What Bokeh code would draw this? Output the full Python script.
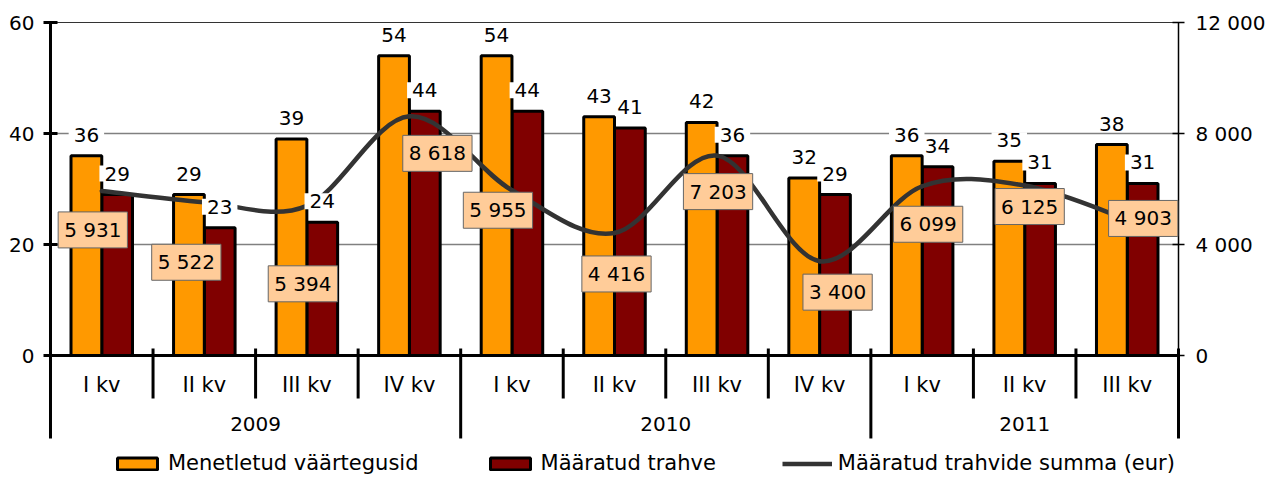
import numpy as np
from bokeh.plotting import figure
from bokeh.models import ColumnDataSource, Range1d, LinearAxis, FixedTicker, Legend, LegendItem
from bokeh.core.properties import value
from bokeh.embed import file_html
from bokeh.resources import INLINE

# ---------------- data ----------------
years = ["2009", "2010", "2011"]
quarters_per_year = [4, 4, 3]
quarters = ["I kv", "II kv", "III kv", "IV kv",
            "I kv", "II kv", "III kv", "IV kv",
            "I kv", "II kv", "III kv"]
menetletud = [36, 29, 39, 54, 54, 43, 42, 32, 36, 35, 38]
trahve = [29, 23, 24, 44, 44, 41, 36, 29, 34, 31, 31]
summa = [5931, 5522, 5394, 8618, 5955, 4416, 7203, 3400, 6099, 6125, 4903]
left_ticks = [0, 20, 40, 60]
right_ticks = [0, 4000, 8000, 12000]
right_tick_labels = ["0", "4 000", "8 000", "12 000"]
series_names = ["Menetletud väärtegusid", "Määratud trahve",
                "Määratud trahvide summa (eur)"]

# placement of the sum labels relative to their points (pixels)
sum_dx = [-9, -18, -4, 28, -14, 2, 1, 18, 6, 5, 16]
sum_dy = [39, 60, 78, 37, 20, 41, 36, 31, 38, 21, -1]

# ---------------- styles / geometry ----------------
FONTN = "DejaVu Sans"
FONT = value(FONTN)
ORANGE = "#FF9900"
DARKRED = "#800000"
LINEC = "#333333"
W, H = 1268, 477
PX_Y = 333 / 60.0
PX_X = 1129 / 11.0
Y0, Y1 = -(H - 355) / PX_Y, 60 + 2 / PX_Y
RATIO = 12000 / 60.0

n = len(quarters)
idx = np.arange(n, dtype=float)

p = figure(width=W, height=H, output_backend="svg", toolbar_location=None,
           x_range=Range1d(-0.5 - 4 / PX_X, 10.5 + 4 / PX_X),
           y_range=Range1d(Y0, Y1), x_axis_location=None,
           min_border_left=46, min_border_right=85, min_border_top=20,
           min_border_bottom=0)
p.extra_y_ranges = {"sum": Range1d(Y0 * RATIO, Y1 * RATIO)}
p.outline_line_color = None
p.grid.visible = False
p.background_fill_color = "white"
p.border_fill_color = "white"

# left axis
ya = p.yaxis[0]
ya.ticker = FixedTicker(ticks=left_ticks)
ya.axis_line_color = None
ya.major_tick_in = 11
ya.major_tick_out = 3
ya.major_tick_line_width = 3
ya.major_tick_line_color = "black"
ya.minor_tick_line_color = None
ya.major_label_standoff = 9
ya.major_label_text_font = FONTN
ya.major_label_text_font_size = "20px"
ya.major_label_text_color = "black"

# right axis
ra = LinearAxis(y_range_name="sum", ticker=FixedTicker(ticks=right_ticks),
                major_label_overrides={t: l for t, l in zip(right_ticks, right_tick_labels)})
ra.axis_line_color = None
ra.major_tick_in = 10
ra.major_tick_out = 2
ra.major_tick_line_width = 1.5
ra.major_tick_line_color = "black"
ra.minor_tick_line_color = None
ra.major_label_standoff = 11
ra.major_label_text_font = FONTN
ra.major_label_text_font_size = "20px"
ra.major_label_text_color = "black"
p.add_layout(ra, "right")

# gridlines
p.segment(x0=[-0.5, -0.5], x1=[10.5, 10.5], y0=[20, 40], y1=[20, 40],
          line_color="#808080", line_width=1.5)
p.segment(x0=[-0.5], x1=[10.5], y0=[60], y1=[60], line_color="#333333", line_width=1.2)

# bars
src = ColumnDataSource(dict(
    xo=idx - 0.15, xr=idx + 0.15, m=menetletud, t=trahve,
    ml=[str(v) for v in menetletud], tl=[str(v) for v in trahve]))
r_dr = p.vbar(x="xr", width=0.3, top="t", bottom=0, source=src,
              fill_color=DARKRED, line_color="black", line_width=3)
r_or = p.vbar(x="xo", width=0.3, top="m", bottom=0, source=src,
              fill_color=ORANGE, line_color="black", line_width=3)

# axes lines / separators
p.segment(x0=[-0.5], x1=[10.5], y0=[0], y1=[0], line_color="black", line_width=3)
p.segment(x0=[10.5], x1=[10.5], y0=[0], y1=[60], line_color="black", line_width=1.5)
p.segment(x0=[-0.5], x1=[-0.5], y0=[60], y1=[-14.95], line_color="black", line_width=3)
bounds = np.cumsum(quarters_per_year) - 0.5
qsep = [b for b in idx[:-1] + 0.5 if b not in bounds]
p.segment(x0=qsep, x1=qsep, y0=[1.26] * len(qsep), y1=[-7.75] * len(qsep),
          line_color="black", line_width=3)
ysep = list(bounds)
p.segment(x0=ysep, x1=ysep, y0=[1.26] * len(ysep), y1=[-14.95] * len(ysep),
          line_color="black", line_width=3)

# smooth line (Bezier through the data points)
ys = np.array(summa, dtype=float)
xpad = np.concatenate([[idx[0]], idx, [idx[-1]]])
ypad = np.concatenate([[ys[0]], ys, [ys[-1]]])
k = 1 / 6.0
bz = dict(
    x0=xpad[1:n], y0=ypad[1:n], x1=xpad[2:n + 1], y1=ypad[2:n + 1],
    cx0=xpad[1:n] + (xpad[2:n + 1] - xpad[0:n - 1]) * k,
    cy0=ypad[1:n] + (ypad[2:n + 1] - ypad[0:n - 1]) * k,
    cx1=xpad[2:n + 1] - (xpad[3:n + 2] - xpad[1:n]) * k,
    cy1=ypad[2:n + 1] - (ypad[3:n + 2] - ypad[1:n]) * k)
p.bezier(source=ColumnDataSource(bz), x0="x0", y0="y0", x1="x1", y1="y1",
         cx0="cx0", cy0="cy0", cx1="cx1", cy1="cy1",
         line_color=LINEC, line_width=4.5, line_cap="round", y_range_name="sum")
# renderer used only for the legend entry of the line
r_ln = p.line(x=[0, 1], y=[np.nan, np.nan], line_color=LINEC, line_width=4.5,
              y_range_name="sum")

# bar value labels
p.text(x="xo", y="m", text="ml", source=src, y_offset=-21,
       text_align="center", text_baseline="middle", text_font=FONT,
       text_font_size="20px", text_color="black",
       background_fill_color="white", padding=(5, 5, 1, 1))
p.text(x="xr", y="t", text="tl", source=src, y_offset=-21,
       text_align="center", text_baseline="middle", text_font=FONT,
       text_font_size="20px", text_color="black",
       background_fill_color="white", padding=(5, 5, 1, 1))

# sum labels
ssrc = ColumnDataSource(dict(x=idx, y=summa,
                             lab=[f"{v:,}".replace(",", " ") for v in summa],
                             dx=sum_dx, dy=sum_dy))
p.text(x="x", y="y", text="lab", source=ssrc, x_offset="dx", y_offset="dy",
       y_range_name="sum", text_align="center", text_baseline="middle",
       text_font=FONT, text_font_size="20px", text_color="black",
       background_fill_color="#FFCC99", border_line_color="#666666",
       border_line_width=1, padding=6)

# category labels
p.text(x=idx, y=[-5.4] * n, text=quarters, text_align="center",
       text_baseline="middle", text_font=FONT, text_font_size="21px",
       text_color="black")
starts = np.concatenate([[0], np.cumsum(quarters_per_year)[:-1]])
ycent = starts + (np.array(quarters_per_year) - 1) / 2.0
p.text(x=ycent, y=[-12.4] * len(years), text=years, text_align="center",
       text_baseline="middle", text_font=FONT, text_font_size="20px",
       text_color="black")

# legend
legend = Legend(items=[LegendItem(label=series_names[0], renderers=[r_or]),
                       LegendItem(label=series_names[1], renderers=[r_dr]),
                       LegendItem(label=series_names[2], renderers=[r_ln])],
                location=(66, 2), orientation="horizontal",
                glyph_width=50, glyph_height=15, label_standoff=6, spacing=66,
                padding=0, margin=0, border_line_color=None,
                background_fill_alpha=0, label_text_font=FONTN,
                label_text_font_size="21px", label_text_color="black")
p.add_layout(legend)

open("out.html", "w").write(file_html(p, INLINE))
